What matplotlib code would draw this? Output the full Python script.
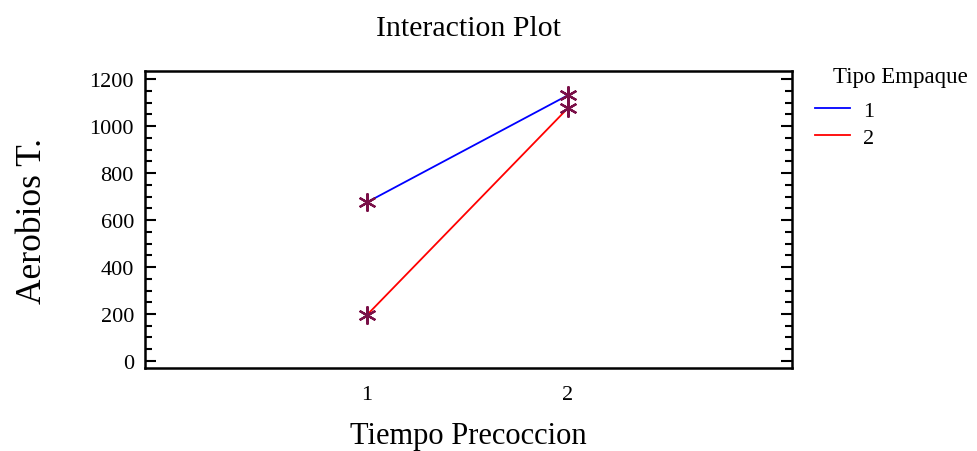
import matplotlib
matplotlib.use("Agg")
import matplotlib.pyplot as plt
from matplotlib.ticker import MultipleLocator

plt.rcParams['font.family'] = ['Liberation Serif', 'DejaVu Serif']

tiempo = [1, 2]
tipo_labels = ["1", "2"]
aerobios_tipo1 = [676, 1132]
aerobios_tipo2 = [196, 1077]
colors = ["#0000ff", "#ff0000"]

fig = plt.figure(figsize=(9.77, 4.52), dpi=100)
ax = fig.add_axes([0.1484, 0.1836, 0.6622, 0.6571])

for vals, c, lab in zip([aerobios_tipo1, aerobios_tipo2], colors, tipo_labels):
    ax.plot(tiempo, vals, color=c, lw=1.3, label=lab)
for vals in [aerobios_tipo1, aerobios_tipo2]:
    ax.plot(tiempo, vals, ls='none', marker=(6, 2, 0), ms=13, mew=1.6,
            color="#7a1048")

ax.set_xlim(-0.105, 3.115)
ax.set_ylim(-30, 1235)
ax.set_xticks(tiempo)
ax.set_xticklabels(["1", "2"])
ax.tick_params(axis='x', length=0, labelsize=16, pad=12)
ax.yaxis.set_major_locator(MultipleLocator(200))
ax.yaxis.set_minor_locator(MultipleLocator(50))
ax.tick_params(axis='y', which='major', direction='in', length=8, width=1.5,
               right=True, labelsize=16, pad=8)
ax.tick_params(axis='y', which='minor', direction='in', length=5, width=1.5,
               right=True)
for s in ax.spines.values():
    s.set_linewidth(1.8)

ax.set_title("Interaction Plot", fontsize=21.5, pad=26)
ax.set_xlabel("Tiempo Precoccion", fontsize=22, labelpad=12.5)
ax.set_ylabel("Aerobios T.", fontsize=25.5)
ax.yaxis.set_label_coords(-0.148, 0.5)

fig.text(833 / 977, 1 - 77 / 452, "Tipo Empaque", fontsize=16.5,
         ha='left', va='center')
leg = ax.legend(loc='upper left', bbox_to_anchor=(1.0355, 0.901),
                frameon=False, fontsize=16, handlelength=1.6,
                handletextpad=0.55, labelspacing=0.28, borderpad=0,
                borderaxespad=0)

fig.savefig("out.png", dpi=100)
